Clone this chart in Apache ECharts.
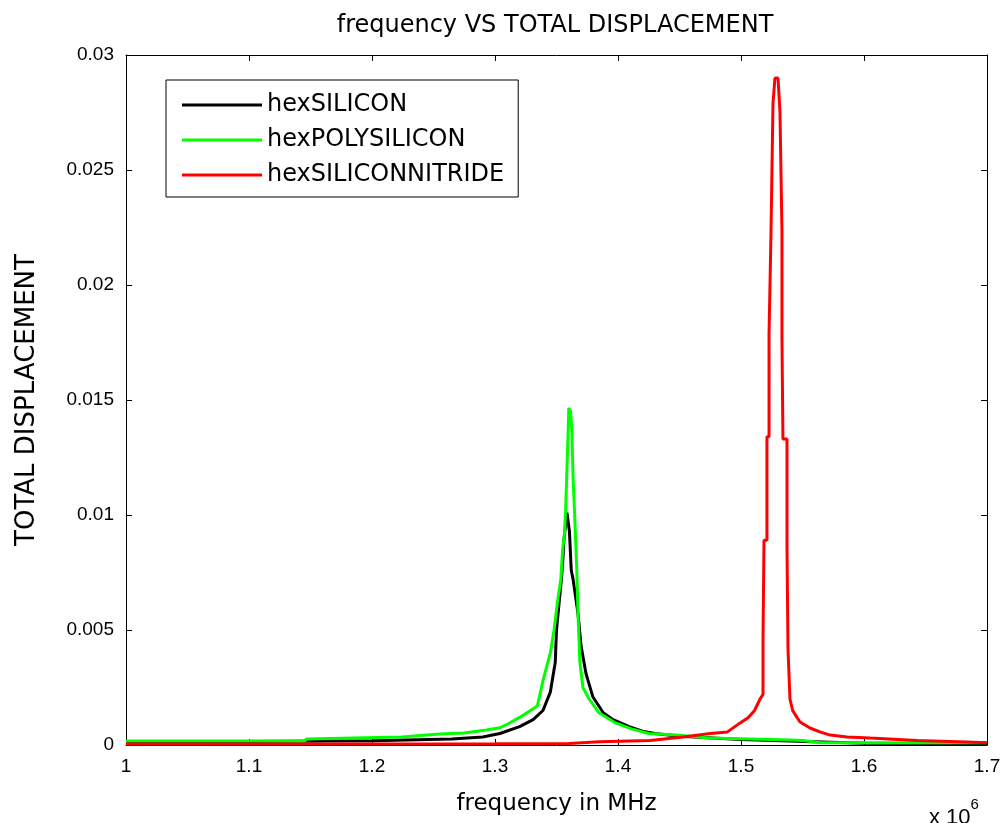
<!DOCTYPE html>
<html>
<head>
<meta charset="utf-8">
<script src="https://cdn.jsdelivr.net/npm/echarts@6/dist/echarts.min.js"></script>
<style>
html,body{margin:0;padding:0;background:#fff;}
#chart{width:1005px;height:823px;}
</style>
</head>
<body>
<div id="chart"></div>
<script>
// x values in units of 10^6 Hz, y = total displacement
const siliconFreq = [1.000,1.100,1.200,1.265,1.290,1.304,1.320,1.331,1.339,1.345,1.349,1.350,1.3525,1.354,1.355,1.356,1.3585,1.3605,1.362,1.3635,1.3675,1.370,1.374,1.3795,1.388,1.396,1.409,1.420,1.430,1.450,1.500,1.600,1.700];
const siliconDisp = [0.00015,0.00015,0.00018,0.00026,0.00035,0.0005,0.0008,0.0011,0.0015,0.0023,0.0036,0.0050,0.0064,0.0072,0.0079,0.0089,0.0101,0.0093,0.0076,0.0072,0.0057,0.0043,0.0031,0.0021,0.0014,0.0011,0.0008,0.0006,0.0005,0.00038,0.00024,0.00008,0.00006];

const polyFreq = [1.000,1.145,1.147,1.224,1.255,1.275,1.293,1.304,1.309,1.320,1.3345,1.339,1.345,1.348,1.351,1.3535,1.355,1.3565,1.3575,1.3585,1.3595,1.3600,1.3615,1.3625,1.3635,1.365,1.3665,1.3675,1.369,1.3715,1.3765,1.3845,1.398,1.411,1.425,1.447,1.474,1.507,1.540,1.550,1.565,1.680,1.700];
const polyDisp = [0.00017,0.00017,0.00026,0.00035,0.00048,0.00052,0.00065,0.00075,0.00087,0.0012,0.0017,0.0028,0.0040,0.0050,0.0063,0.0072,0.0085,0.0092,0.0103,0.0120,0.0137,0.01465,0.0145,0.0136,0.0116,0.0097,0.0076,0.0057,0.0036,0.0025,0.0020,0.0014,0.00096,0.0007,0.0005,0.00043,0.0003,0.00026,0.00022,0.0002,0.0001,0.0001,0.0001];

const nitrideFreq = [1.000,1.300,1.360,1.385,1.426,1.453,1.475,1.489,1.499,1.506,1.511,1.5155,1.5179,1.5179,1.5187,1.5187,1.5211,1.5211,1.5228,1.5228,1.5244,1.5244,1.5260,1.5260,1.5276,1.5301,1.5317,1.5333,1.5333,1.5341,1.5341,1.5374,1.5374,1.5382,1.5382,1.5398,1.5398,1.5420,1.5455,1.5480,1.5561,1.5642,1.5724,1.5862,1.6049,1.6431,1.6837,1.700];
const nitrideDisp = [0.00004,0.00005,0.00007,0.00014,0.0002,0.00035,0.0005,0.00057,0.00095,0.0012,0.0015,0.0020,0.0022,0.0046,0.0046,0.0089,0.0089,0.0134,0.0134,0.0179,0.0179,0.0223,0.0223,0.0279,0.0290,0.0290,0.0275,0.0223,0.0177,0.0177,0.0133,0.0133,0.0086,0.0086,0.0042,0.0042,0.0020,0.0015,0.0012,0.0010,0.00074,0.00057,0.00043,0.00035,0.0003,0.0002,0.00013,0.0001];

const seriesNames = ['hexSILICON','hexPOLYSILICON','hexSILICONNITRIDE'];
const seriesColors = ['#000000','#00ff00','#ff0000'];
const xTicks = {min:1.0, max:1.7, interval:0.1};
const yTicks = {min:0, max:0.03, interval:0.005};

function pairs(xs, ys){ return xs.map((x,i)=>[x, ys[i]]); }
const allData = [pairs(siliconFreq,siliconDisp), pairs(polyFreq,polyDisp), pairs(nitrideFreq,nitrideDisp)];

const FONT = '"Liberation Sans", Arial, sans-serif';
const WFONT = '"DejaVu Sans", sans-serif';
const chart = echarts.init(document.getElementById('chart'), null, {renderer:'canvas'});

const axisCommon = {
  axisLine:{show:true, onZero:false, lineStyle:{color:'#000', width:1}},
  axisTick:{show:true, inside:true, length:6, lineStyle:{color:'#000', width:1}},
  splitLine:{show:false}
};

chart.setOption({
  animation:false,
  backgroundColor:'#fff',
  title:{
    text:'frequency VS TOTAL DISPLACEMENT',
    left:550, top:9, textAlign:'center',
    textStyle:{fontFamily:WFONT, fontSize:24, fontWeight:'normal', color:'#000'}
  },
  grid:{left:126, right:18, top:55, bottom:78, containLabel:false},
  legend:{
    show:true,
    orient:'vertical',
    left:166, top:80,
    data:seriesNames,
    itemWidth:80, itemHeight:3,
    itemGap:11,
    padding:[13,14,10,16],
    borderColor:'#000', borderWidth:1,
    backgroundColor:'#fff',
    icon:'rect',
    textStyle:{fontFamily:WFONT, fontSize:24, color:'#000', lineHeight:24}
  },
  xAxis:[
    Object.assign({}, axisCommon, {
      type:'value', position:'bottom', min:xTicks.min, max:xTicks.max, interval:xTicks.interval,
      name:'frequency in MHz', nameLocation:'middle', nameGap:48,
      nameTextStyle:{fontFamily:WFONT, fontSize:23, color:'#000'},
      axisLabel:{show:true, margin:12, fontFamily:FONT, fontSize:19, color:'#000',
        formatter:function(v){ return (Math.round(v*10)/10).toString(); }}
    }),
    Object.assign({}, axisCommon, {
      type:'value', position:'top', min:xTicks.min, max:xTicks.max, interval:xTicks.interval,
      axisLabel:{show:false}
    })
  ],
  yAxis:[
    Object.assign({}, axisCommon, {
      type:'value', position:'left', min:yTicks.min, max:yTicks.max, interval:yTicks.interval,
      name:'TOTAL DISPLACEMENT', nameLocation:'middle', nameGap:86, nameRotate:90,
      nameTextStyle:{fontFamily:WFONT, fontSize:26, color:'#000'},
      axisLabel:{show:true, margin:12, fontFamily:FONT, fontSize:19, color:'#000',
        formatter:function(v){ return (Math.round(v*1000)/1000).toString(); }}
    }),
    Object.assign({}, axisCommon, {
      type:'value', position:'right', min:yTicks.min, max:yTicks.max, interval:yTicks.interval,
      axisLabel:{show:false}
    })
  ],
  series: seriesNames.map((n,i)=>({
    name:n, type:'line', xAxisIndex:0, yAxisIndex:0,
    data:allData[i], showSymbol:false, symbol:'none',
    lineStyle:{color:seriesColors[i], width:3},
    itemStyle:{color:seriesColors[i]},
    z:2+i
  })),
  graphic:[
    {type:'text', left:929, top:797,
     style:{text:'{a|x 10}{b|6}', rich:{a:{fontFamily:FONT,fontSize:22,color:'#000',padding:[10,0,0,0]},b:{fontFamily:FONT,fontSize:15,color:'#000',verticalAlign:'top'}}}}
  ]
});
</script>
</body>
</html>
